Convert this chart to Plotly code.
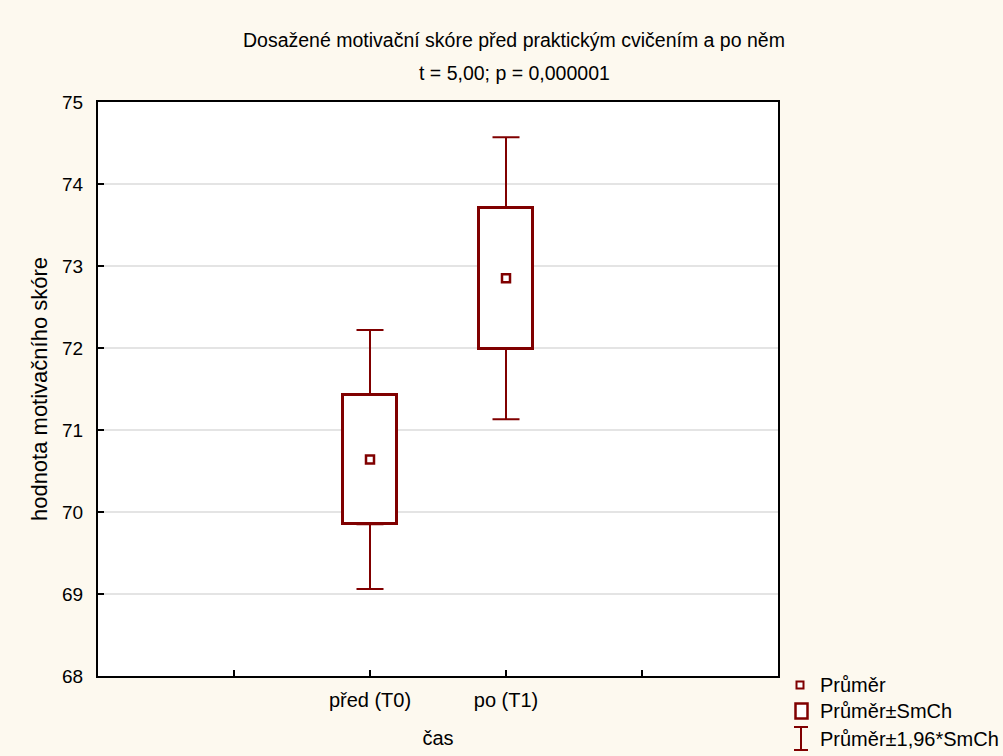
import plotly.graph_objects as go

# ---- data ----
categories = ["před (T0)", "po (T1)"]
means = [70.64, 72.85]          # Průměr
se = [0.79, 0.86]               # SmCh
ci_half = [1.58, 1.72]          # 1,96*SmCh
y_ticks = [68, 69, 70, 71, 72, 73, 74, 75]
axis_categories = [" ", "před (T0)", "po (T1)", "  "]
legend_labels = ["Průměr", "Průměr±SmCh", "Průměr±1,96*SmCh"]
title_line1 = "Dosažené motivační skóre před praktickým cvičením a po něm"
title_line2 = "t = 5,00; p = 0,000001"

DARK_RED = "#800000"
FONT = "Liberation Sans, Arial, sans-serif"
W, H = 1003, 756
L, R, T, B = 98, 225, 102, 80
PW, PH = W - L - R, H - T - B


def px(x):
    return (x - L) / PW


def py(y):
    return (H - B - y) / PH


fig = go.Figure()

# box: mean ± SE
fig.add_trace(go.Bar(
    x=categories,
    y=[2 * s for s in se],
    base=[m - s for m, s in zip(means, se)],
    width=0.4,
    marker=dict(color="white", line=dict(color=DARK_RED, width=3)),
    showlegend=False, hoverinfo="skip",
))

# whiskers: from box edges to mean ± 1.96*SE
upper_edge = [m + s for m, s in zip(means, se)]
lower_edge = [m - s for m, s in zip(means, se)]
whisker_len = [c - s for c, s in zip(ci_half, se)]
zeros = [0 for _ in categories]
fig.add_trace(go.Scatter(
    x=categories, y=upper_edge, mode="markers",
    marker=dict(size=1, opacity=0),
    error_y=dict(type="data", symmetric=False, array=whisker_len, arrayminus=zeros,
                 color=DARK_RED, thickness=2, width=13.5),
    showlegend=False, hoverinfo="skip",
))
fig.add_trace(go.Scatter(
    x=categories, y=lower_edge, mode="markers",
    marker=dict(size=1, opacity=0),
    error_y=dict(type="data", symmetric=False, array=zeros, arrayminus=whisker_len,
                 color=DARK_RED, thickness=2, width=13.5),
    showlegend=False, hoverinfo="skip",
))

# mean marker
fig.add_trace(go.Scatter(
    x=categories, y=means, mode="markers",
    marker=dict(symbol="square-open", size=8, color=DARK_RED, line=dict(width=2.5)),
    showlegend=False, hoverinfo="skip",
))

# ---- manual legend (bottom right) ----
shapes = []
annotations = []
# item 1: small square
shapes.append(dict(type="rect", xref="paper", yref="paper",
                   x0=px(796.5), x1=px(803.5), y0=py(688.5), y1=py(681.5),
                   line=dict(color=DARK_RED, width=2), fillcolor="white"))
# item 2: box
shapes.append(dict(type="rect", xref="paper", yref="paper",
                   x0=px(795.5), x1=px(807.5), y0=py(718.5), y1=py(703.5),
                   line=dict(color=DARK_RED, width=2.5), fillcolor="white"))
# item 3: I-beam
for (x0, y0, x1, y1) in [(794, 727, 808, 727), (801, 727, 801, 750), (794, 750, 808, 750)]:
    shapes.append(dict(type="line", xref="paper", yref="paper",
                       x0=px(x0), x1=px(x1), y0=py(y0), y1=py(y1),
                       line=dict(color=DARK_RED, width=2)))
for label, yc in zip(legend_labels, [685, 711, 739]):
    annotations.append(dict(text=label, xref="paper", yref="paper",
                            x=px(818), y=py(yc), xanchor="left", yanchor="middle",
                            showarrow=False, font=dict(family=FONT, size=20, color="black")))

# titles
annotations.append(dict(text=title_line1, xref="paper", yref="paper",
                        x=px(514), y=py(40), xanchor="center", yanchor="middle",
                        showarrow=False, font=dict(family=FONT, size=19.5, color="black")))
annotations.append(dict(text=title_line2, xref="paper", yref="paper",
                        x=px(514), y=py(73), xanchor="center", yanchor="middle",
                        showarrow=False, font=dict(family=FONT, size=19.5, color="black")))

fig.update_layout(
    width=W, height=H,
    margin=dict(l=L, r=R, t=T, b=B, pad=0, autoexpand=False),
    paper_bgcolor="#FDF9EF",
    plot_bgcolor="white",
    font=dict(family=FONT, size=18, color="black"),
    showlegend=False,
    shapes=shapes,
    annotations=annotations,
    bargap=0,
)

fig.update_xaxes(
    type="category",
    categoryorder="array", categoryarray=axis_categories,
    range=[-1, len(axis_categories)],
    automargin=False,
    showgrid=False, zeroline=False,
    showline=True, linecolor="black", linewidth=2, mirror=True,
    ticks="inside", ticklen=6, tickcolor="black", tickwidth=2,
    tickfont=dict(family=FONT, size=20),
    ticklabelstandoff=5,
    title=dict(text="čas", font=dict(family=FONT, size=20), standoff=21),
)
fig.update_yaxes(
    range=[y_ticks[0], y_ticks[-1]],
    tickvals=y_ticks,
    automargin=False,
    showgrid=True, gridcolor="#E4E4E4", gridwidth=1.5,
    zeroline=False,
    showline=True, linecolor="black", linewidth=2, mirror=True,
    ticks="inside", ticklen=6, tickcolor="black", tickwidth=2,
    tickfont=dict(family=FONT, size=19),
    ticklabelstandoff=9,
    title=dict(text="hodnota motivačního skóre", font=dict(family=FONT, size=22), standoff=8),
)

fig.write_html("out.html")
